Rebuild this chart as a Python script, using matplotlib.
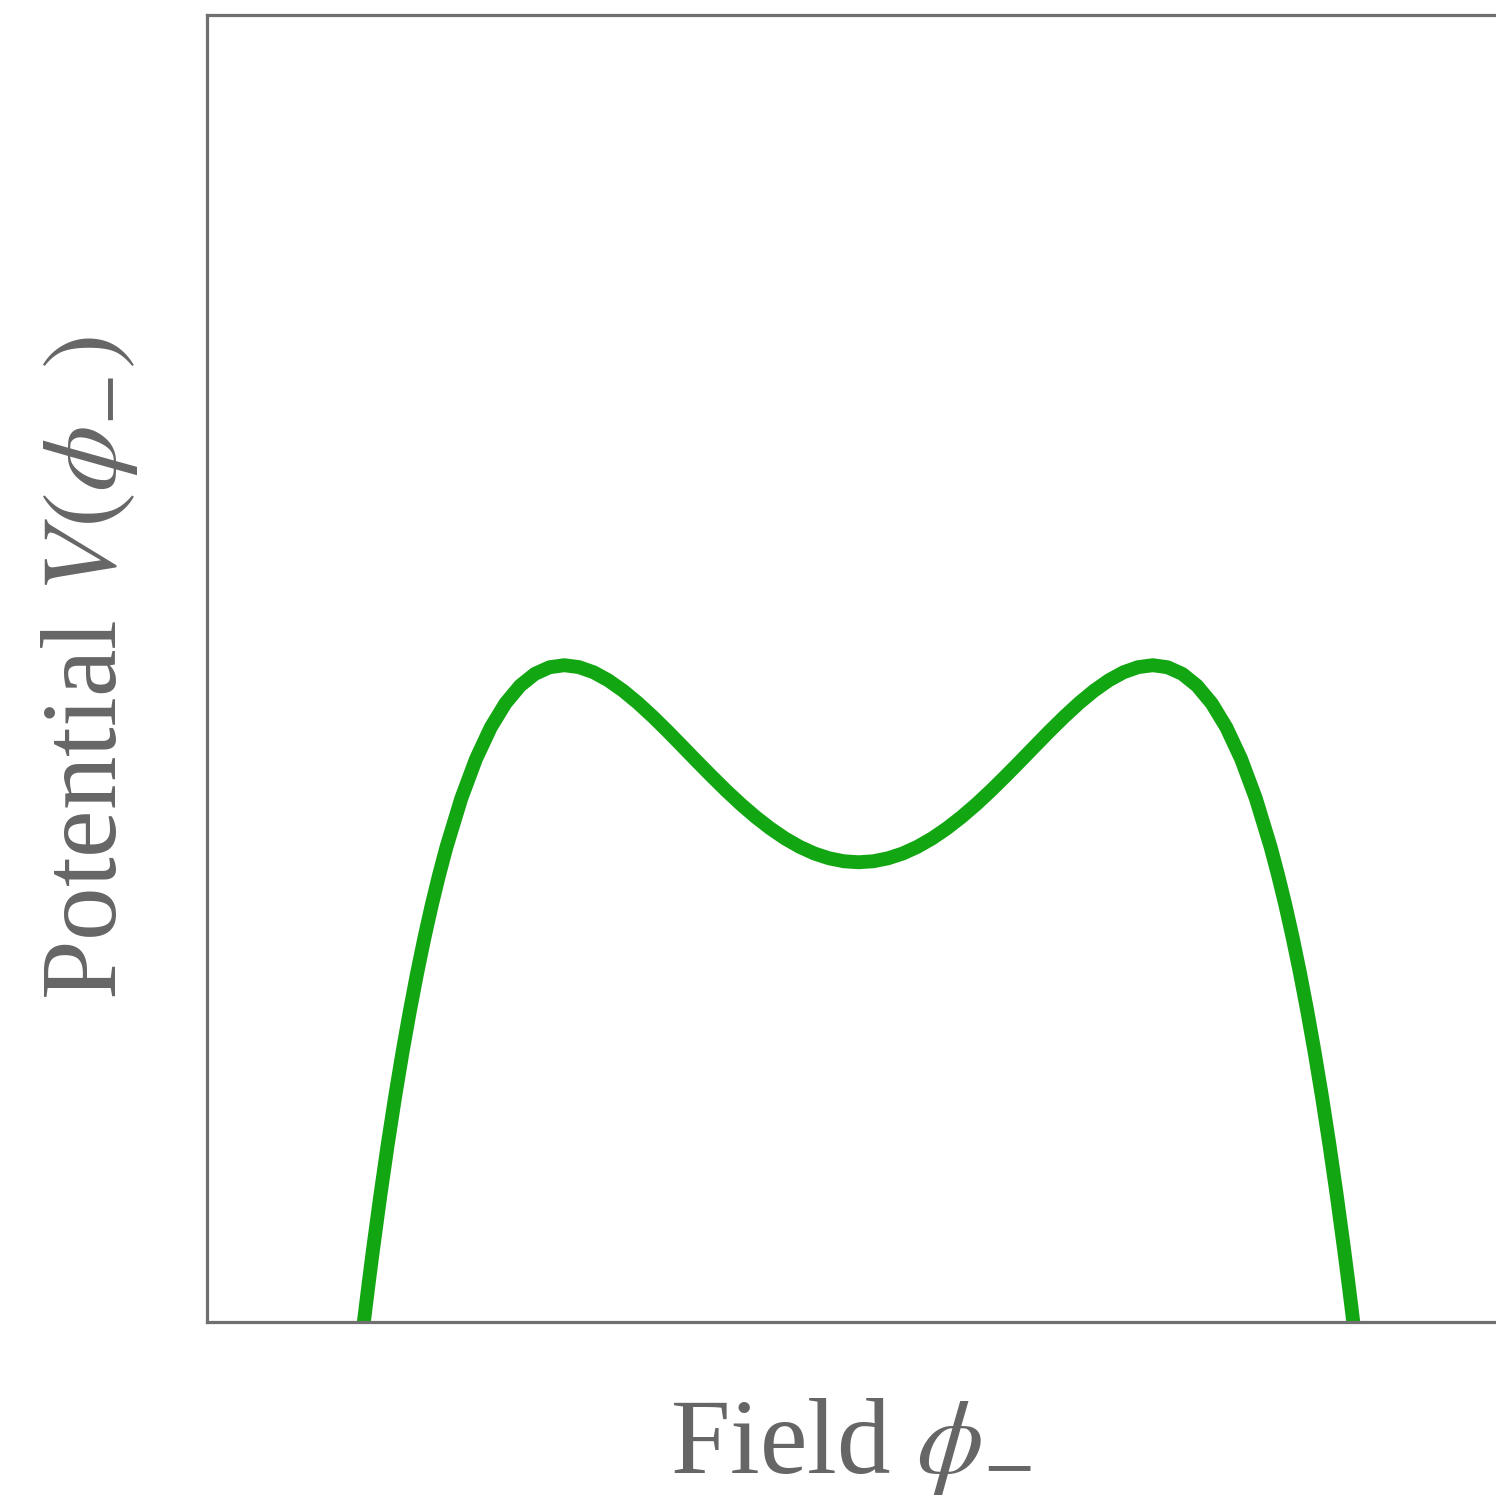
import matplotlib
matplotlib.use("Agg")
from matplotlib import pyplot as plt

# field values (peaks at +-1) and potential
phi = [-1.70, -1.68, -1.665, -1.65, -1.625, -1.6, -1.575, -1.55, -1.525, -1.5, -1.475, -1.45,
       -1.425, -1.4, -1.35, -1.3, -1.25, -1.2, -1.15, -1.1, -1.05, -1.0, -0.95, -0.9, -0.85,
       -0.8, -0.75, -0.7, -0.65, -0.6, -0.55, -0.5, -0.45, -0.4, -0.35, -0.3, -0.25, -0.2,
       -0.15, -0.1, -0.05,
       0.0,
       0.05, 0.1, 0.15, 0.2, 0.25, 0.3, 0.35, 0.4, 0.45, 0.5, 0.55, 0.6, 0.65, 0.7, 0.75,
       0.8, 0.85, 0.9, 0.95, 1.0, 1.05, 1.1, 1.15, 1.2, 1.25, 1.3, 1.35, 1.4, 1.425, 1.45,
       1.475, 1.5, 1.525, 1.55, 1.575, 1.6, 1.625, 1.65, 1.665, 1.68, 1.70]
V = [-0.0716, 0.0036, 0.0578, 0.1099, 0.1925, 0.2699, 0.3423, 0.4099, 0.4728, 0.5313, 0.5854,
     0.6354, 0.6813, 0.7235, 0.7971, 0.8572, 0.9051, 0.9419, 0.9688, 0.9868, 0.9969, 1.000,
     0.9971, 0.9892, 0.9769, 0.9611, 0.9426, 0.9220, 0.9000, 0.8771, 0.8540, 0.8313, 0.8092,
     0.7883, 0.7690, 0.7516, 0.7363, 0.7235, 0.7133, 0.706, 0.7015,
     0.700,
     0.7015, 0.706, 0.7133, 0.7235, 0.7363, 0.7516, 0.7690, 0.7883, 0.8092, 0.8313, 0.8540,
     0.8771, 0.9000, 0.9220, 0.9426, 0.9611, 0.9769, 0.9892, 0.9971, 1.000, 0.9969, 0.9868,
     0.9688, 0.9419, 0.9051, 0.8572, 0.7971, 0.7235, 0.6813, 0.6354, 0.5854, 0.5313, 0.4728,
     0.4099, 0.3423, 0.2699, 0.1925, 0.1099, 0.0578, 0.0036, -0.0716]

plt.rcParams['mathtext.fontset'] = 'stix'
plt.rcParams['font.family'] = ['Liberation Serif', 'DejaVu Serif']

fig = plt.figure(figsize=(14.96, 14.98), dpi=100)
ax = fig.add_axes([207/1496, 1 - 1322/1498, 1 - 207/1496, (1322 - 15)/1498])

ax.plot(phi, V, color='#13a613', lw=10, solid_capstyle='butt', solid_joinstyle='round')

ax.set_xlim(-2.214, 2.166)
ax.set_ylim(0, 1.99)
ax.set_xticks([])
ax.set_yticks([])
for s in ['left', 'bottom', 'top']:
    ax.spines[s].set_color('#707070')
    ax.spines[s].set_linewidth(2.3)
ax.spines['right'].set_visible(False)

ax.set_xlabel(r'Field $\phi_{-}$', fontsize=77, color='#666666', labelpad=53)
ax.set_ylabel(r'Potential $V(\phi_{-})$', fontsize=77, color='#666666', labelpad=48)

fig.savefig('out.png', dpi=100)
